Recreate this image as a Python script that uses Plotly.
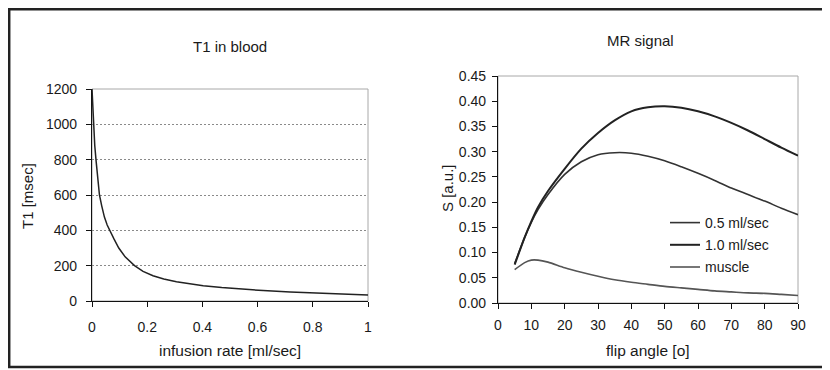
import plotly.graph_objects as go

W, H = 830, 370
OFF = 8  # page body margin in the browser

# ---- data: T1 in blood ----
infusion_rate = [0, 0.005, 0.01, 0.015, 0.02, 0.027, 0.035, 0.045, 0.055, 0.065, 0.08,
                 0.097, 0.12, 0.154, 0.185, 0.221, 0.26, 0.306, 0.35, 0.403, 0.47,
                 0.536, 0.62, 0.718, 0.82, 0.91, 1.0]
t1_msec = [1200, 1000, 880, 790, 720, 600, 540, 475, 430, 395, 350,
           300, 250, 200, 168, 143, 125, 109, 97, 86, 76,
           67, 59, 51, 45, 39, 34]

# ---- data: MR signal ----
flip_angle = [5, 8, 10, 12, 15, 20, 25, 30, 35, 40, 45, 50, 55, 60, 65, 70, 75, 80, 85, 90]
s_05 = [0.078, 0.130, 0.160, 0.185, 0.215, 0.255, 0.280, 0.294, 0.298, 0.297, 0.291,
        0.282, 0.270, 0.257, 0.243, 0.228, 0.215, 0.202, 0.188, 0.175]
s_10 = [0.076, 0.130, 0.162, 0.190, 0.222, 0.266, 0.306, 0.337, 0.362, 0.380, 0.388,
        0.390, 0.387, 0.380, 0.370, 0.357, 0.342, 0.325, 0.308, 0.292]
s_muscle = [0.066, 0.080, 0.085, 0.085, 0.081, 0.070, 0.061, 0.053, 0.046, 0.041, 0.037,
            0.033, 0.030, 0.027, 0.024, 0.022, 0.020, 0.019, 0.017, 0.015]

left_xticks = [0, 0.2, 0.4, 0.6, 0.8, 1]
left_yticks = [0, 200, 400, 600, 800, 1000, 1200]
right_xticks = [0, 10, 20, 30, 40, 50, 60, 70, 80, 90]
right_yticks = [0, 0.05, 0.10, 0.15, 0.20, 0.25, 0.30, 0.35, 0.40, 0.45]

FONT = "Liberation Sans, Arial, sans-serif"
TXT = "#1a1a1a"

def px(x):
    return (x - OFF) / W

def py(y):
    return 1 - (y - OFF) / H

fig = go.Figure()

fig.add_trace(go.Scatter(x=infusion_rate, y=t1_msec, mode="lines",
                         line=dict(color="#222222", width=1.5),
                         showlegend=False, xaxis="x", yaxis="y"))

fig.add_trace(go.Scatter(x=flip_angle, y=s_05, mode="lines", name="0.5 ml/sec",
                         line=dict(color="#333333", width=1.6, shape="spline", smoothing=0.8),
                         legendgroup="a", xaxis="x2", yaxis="y2"))
fig.add_trace(go.Scatter(x=flip_angle, y=s_10, mode="lines", name="1.0 ml/sec",
                         line=dict(color="#222222", width=2, shape="spline", smoothing=0.8),
                         legendgroup="b", xaxis="x2", yaxis="y2"))
fig.add_trace(go.Scatter(x=flip_angle, y=s_muscle, mode="lines", name="muscle",
                         line=dict(color="#555555", width=1.6, shape="spline", smoothing=0.8),
                         legendgroup="c", xaxis="x2", yaxis="y2"))

axis_common = dict(showline=True, linecolor="#111111", linewidth=1.2, ticks="outside",
                   ticklen=5, tickcolor="#111111", tickwidth=1, zeroline=False,
                   automargin=False,
                   tickfont=dict(family=FONT, size=14, color=TXT), fixedrange=True)

fig.update_layout(
    width=W, height=H, margin=dict(l=0, r=0, t=0, b=0, autoexpand=False),
    paper_bgcolor="white", plot_bgcolor="white",
    font=dict(family=FONT, size=14, color=TXT),
    xaxis=dict(domain=[px(92), px(368)], range=[0, 1], tickvals=left_xticks,
               showgrid=False, anchor="y", ticklabelstandoff=8, **axis_common),
    yaxis=dict(domain=[py(301), py(89)], range=[0, 1200], tickvals=left_yticks,
               showgrid=True, gridcolor="#8a8a8a", griddash="2px,2px", gridwidth=1,
               anchor="x", ticklabelstandoff=6, **axis_common),
    xaxis2=dict(domain=[px(498), px(798)], range=[0, 90], tickvals=right_xticks,
                showgrid=False, anchor="y2", ticklabelstandoff=4, **axis_common),
    yaxis2=dict(domain=[py(303), py(76)], range=[0, 0.45], tickvals=right_yticks,
                tickformat=".2f", showgrid=False, anchor="x2", ticklabelstandoff=3,
                **axis_common),
    legend=dict(x=px(665), y=py(207), xanchor="left", yanchor="top",
                bgcolor="rgba(0,0,0,0)", tracegroupgap=1,
                font=dict(family=FONT, size=14, color=TXT)),
    showlegend=True,
)

shapes = []
# light gray plot-area frames (top/right)
for xr, yr in (("x domain", "y domain"), ("x2 domain", "y2 domain")):
    shapes.append(dict(type="rect", xref=xr, yref=yr, x0=0, x1=1, y0=0, y1=1,
                       line=dict(color="#a8a8a8", width=1), layer="below"))
# outer frame
shapes.append(dict(type="rect", xref="paper", yref="paper",
                   x0=px(9.2), x1=px(850), y0=py(367), y1=py(9.2),
                   line=dict(color="#222222", width=2.5)))
fig.update_layout(shapes=shapes)

ann = []
def text(x, y, s, size, angle=0):
    ann.append(dict(x=px(x), y=py(y), xref="paper", yref="paper", text=s,
                    showarrow=False, xanchor="center", yanchor="middle",
                    textangle=angle, font=dict(family=FONT, size=size, color=TXT)))

text(230, 46, "T1 in blood", 15)
text(640, 41, "MR signal", 15)
text(230, 350, "infusion rate [ml/sec]", 15.5)
text(648, 350, "flip angle [o]", 15.5)
text(27, 196, "T1 [msec]", 15, -90)
text(447, 188, "S [a.u.]", 15, -90)
fig.update_layout(annotations=ann)

fig.write_html("out.html")
